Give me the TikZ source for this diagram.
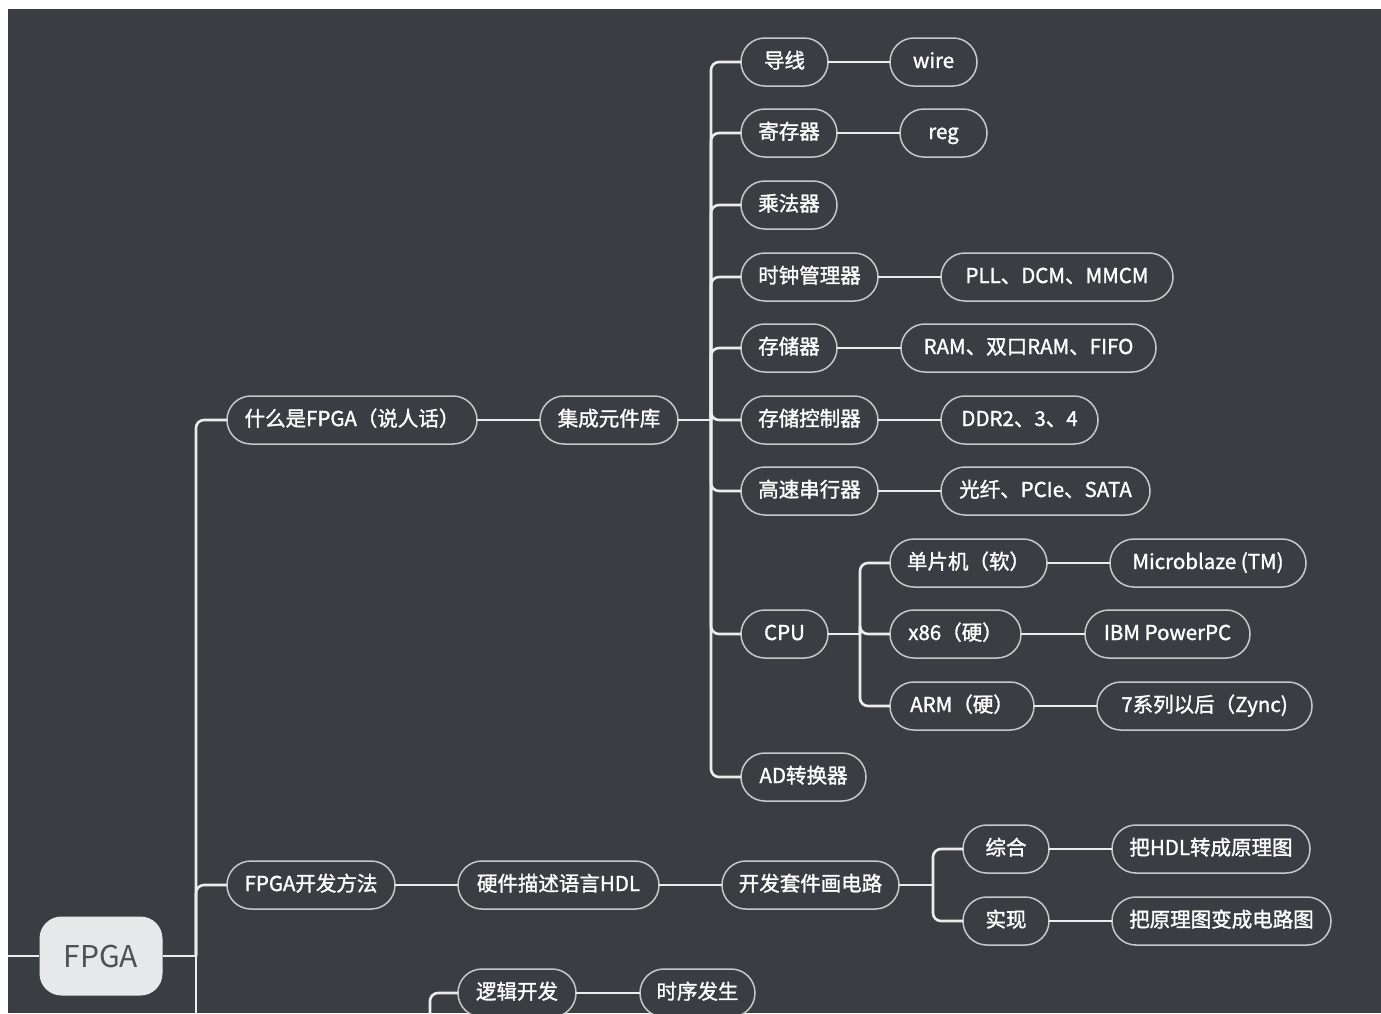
\documentclass[tikz,border=0pt]{standalone}
\usepackage{fontspec}
\setmainfont{Noto Sans CJK SC}
\newfontfamily\labelfont{Noto Sans CJK SC}[FakeBold=1.4]
\definecolor{canvas}{RGB}{58,61,66}
\definecolor{edge}{RGB}{236,236,236}
\definecolor{rim}{RGB}{200,200,200}
\definecolor{rootfill}{RGB}{231,232,234}
\definecolor{roottext}{RGB}{78,80,84}
\begin{document}
\begin{tikzpicture}[x=1pt,y=-1pt,
  pill/.style={rectangle, rounded corners=23.9pt, draw=rim, line width=1.5pt, fill=canvas,
    text=white, font=\labelfont\fontsize{20.5}{24}\selectfont, minimum height=48pt,
    text height=16pt, text depth=4pt,
    inner xsep=14pt, inner ysep=0pt, outer sep=0pt, anchor=west},
  rootbox/.style={rectangle, rounded corners=22pt, fill=rootfill, text=roottext,
    font=\fontsize{30}{36}\selectfont, minimum width=123pt, minimum height=79pt},
  link/.style={draw=edge, line width=2.6pt, rounded corners=8pt}]

% page and canvas
\useasboundingbox (0,0) rectangle (1381,1013);
\fill[white] (0,0) rectangle (1381,1013);
\fill[canvas] (8,9) rectangle (1381,1013);
\clip (8,9) rectangle (1381,1013);

% root
\node[rootbox] (root) at (101,956) {FPGA};

% first level
\node[pill, minimum width=250pt] (a1) at (227,420) {什么是FPGA（说人话）};
\node[pill, minimum width=168pt] (a2) at (227,885) {FPGA开发方法};

% second level
\node[pill, minimum width=138pt] (b1) at (540,420) {集成元件库};
\node[pill, minimum width=201pt] (b2) at (458,885) {硬件描述语言HDL};
\node[pill, minimum width=177pt] (b3) at (722,885) {开发套件画电路};
\node[pill, minimum width=118pt] (b4) at (458,993) {逻辑开发};
\node[pill, minimum width=115pt] (b5) at (640,993) {时序发生};

% component library
\node[pill, minimum width=87pt]  (c1) at (741,62)  {导线};
\node[pill, minimum width=96pt]  (c2) at (741,133) {寄存器};
\node[pill, minimum width=96pt]  (c3) at (741,205) {乘法器};
\node[pill, minimum width=137pt] (c4) at (741,277) {时钟管理器};
\node[pill, minimum width=96pt]  (c5) at (741,348) {存储器};
\node[pill, minimum width=137pt] (c6) at (741,420) {存储控制器};
\node[pill, minimum width=137pt] (c7) at (741,491) {高速串行器};
\node[pill, minimum width=87pt]  (c8) at (741,634) {CPU};
\node[pill, minimum width=125pt] (c9) at (741,777) {AD转换器};

\node[pill, minimum width=87pt]  (d1) at (890,62)  {wire};
\node[pill, minimum width=87pt]  (d2) at (900,133) {reg};
\node[pill, minimum width=232pt] (d4) at (941,277) {PLL、DCM、MMCM};
\node[pill, minimum width=255pt] (d5) at (901,348) {RAM、双口RAM、FIFO};
\node[pill, minimum width=157pt] (d6) at (941,420) {DDR2、3、4};
\node[pill, minimum width=209pt] (d7) at (941,491) {光纤、PCIe、SATA};

% CPU kinds
\node[pill, minimum width=157pt] (e1) at (890,563) {单片机（软）};
\node[pill, minimum width=131pt] (e2) at (890,634) {x86（硬）};
\node[pill, minimum width=144pt] (e3) at (890,706) {ARM（硬）};
\node[pill, minimum width=196pt] (f1) at (1110,563) {Microblaze (TM)};
\node[pill, minimum width=165pt] (f2) at (1085,634) {IBM PowerPC};
\node[pill, minimum width=215pt] (f3) at (1097,706) {7系列以后（Zync)};

% tool flow
\node[pill, minimum width=86pt]  (g1) at (963,849) {综合};
\node[pill, minimum width=86pt]  (g2) at (963,921) {实现};
\node[pill, minimum width=198pt] (h1) at (1112,849) {把HDL转成原理图};
\node[pill, minimum width=219pt] (h2) at (1112,921) {把原理图变成电路图};

% junctions and free ends
\coordinate (jr) at (196,956);
\coordinate (jb) at (711,420);
\coordinate (jc) at (860,634);
\coordinate (jg) at (933,885);
\coordinate (inL) at (0,956);
\coordinate (rootDown) at (196,1040);
\coordinate (logicUp) at (430,1040);

% connectors
\draw[link] (inL) -- (root.west);
\draw[link] (root.east) -- (jr);
\draw[link] (jr) |- (a1.west);
\draw[link] (jr) |- (a2.west);
\draw[link] (jr) -- (rootDown);

\draw[link] (a1.east) -- (b1.west);
\draw[link] (b1.east) -- (jb);
\foreach \c in {c1,c2,c3,c4,c5,c6,c7,c8,c9}
  \draw[link] (jb) |- (\c.west);

\draw[link] (c1.east) -- (d1.west);
\draw[link] (c2.east) -- (d2.west);
\draw[link] (c4.east) -- (d4.west);
\draw[link] (c5.east) -- (d5.west);
\draw[link] (c6.east) -- (d6.west);
\draw[link] (c7.east) -- (d7.west);

\draw[link] (c8.east) -- (jc);
\foreach \e in {e1,e2,e3}
  \draw[link] (jc) |- (\e.west);
\draw[link] (e1.east) -- (f1.west);
\draw[link] (e2.east) -- (f2.west);
\draw[link] (e3.east) -- (f3.west);

\draw[link] (a2.east) -- (b2.west);
\draw[link] (b2.east) -- (b3.west);
\draw[link] (b3.east) -- (jg);
\draw[link] (jg) |- (g1.west);
\draw[link] (jg) |- (g2.west);
\draw[link] (g1.east) -- (h1.west);
\draw[link] (g2.east) -- (h2.west);

\draw[link] (logicUp) |- (b4.west);
\draw[link] (b4.east) -- (b5.west);
\end{tikzpicture}
\end{document}
